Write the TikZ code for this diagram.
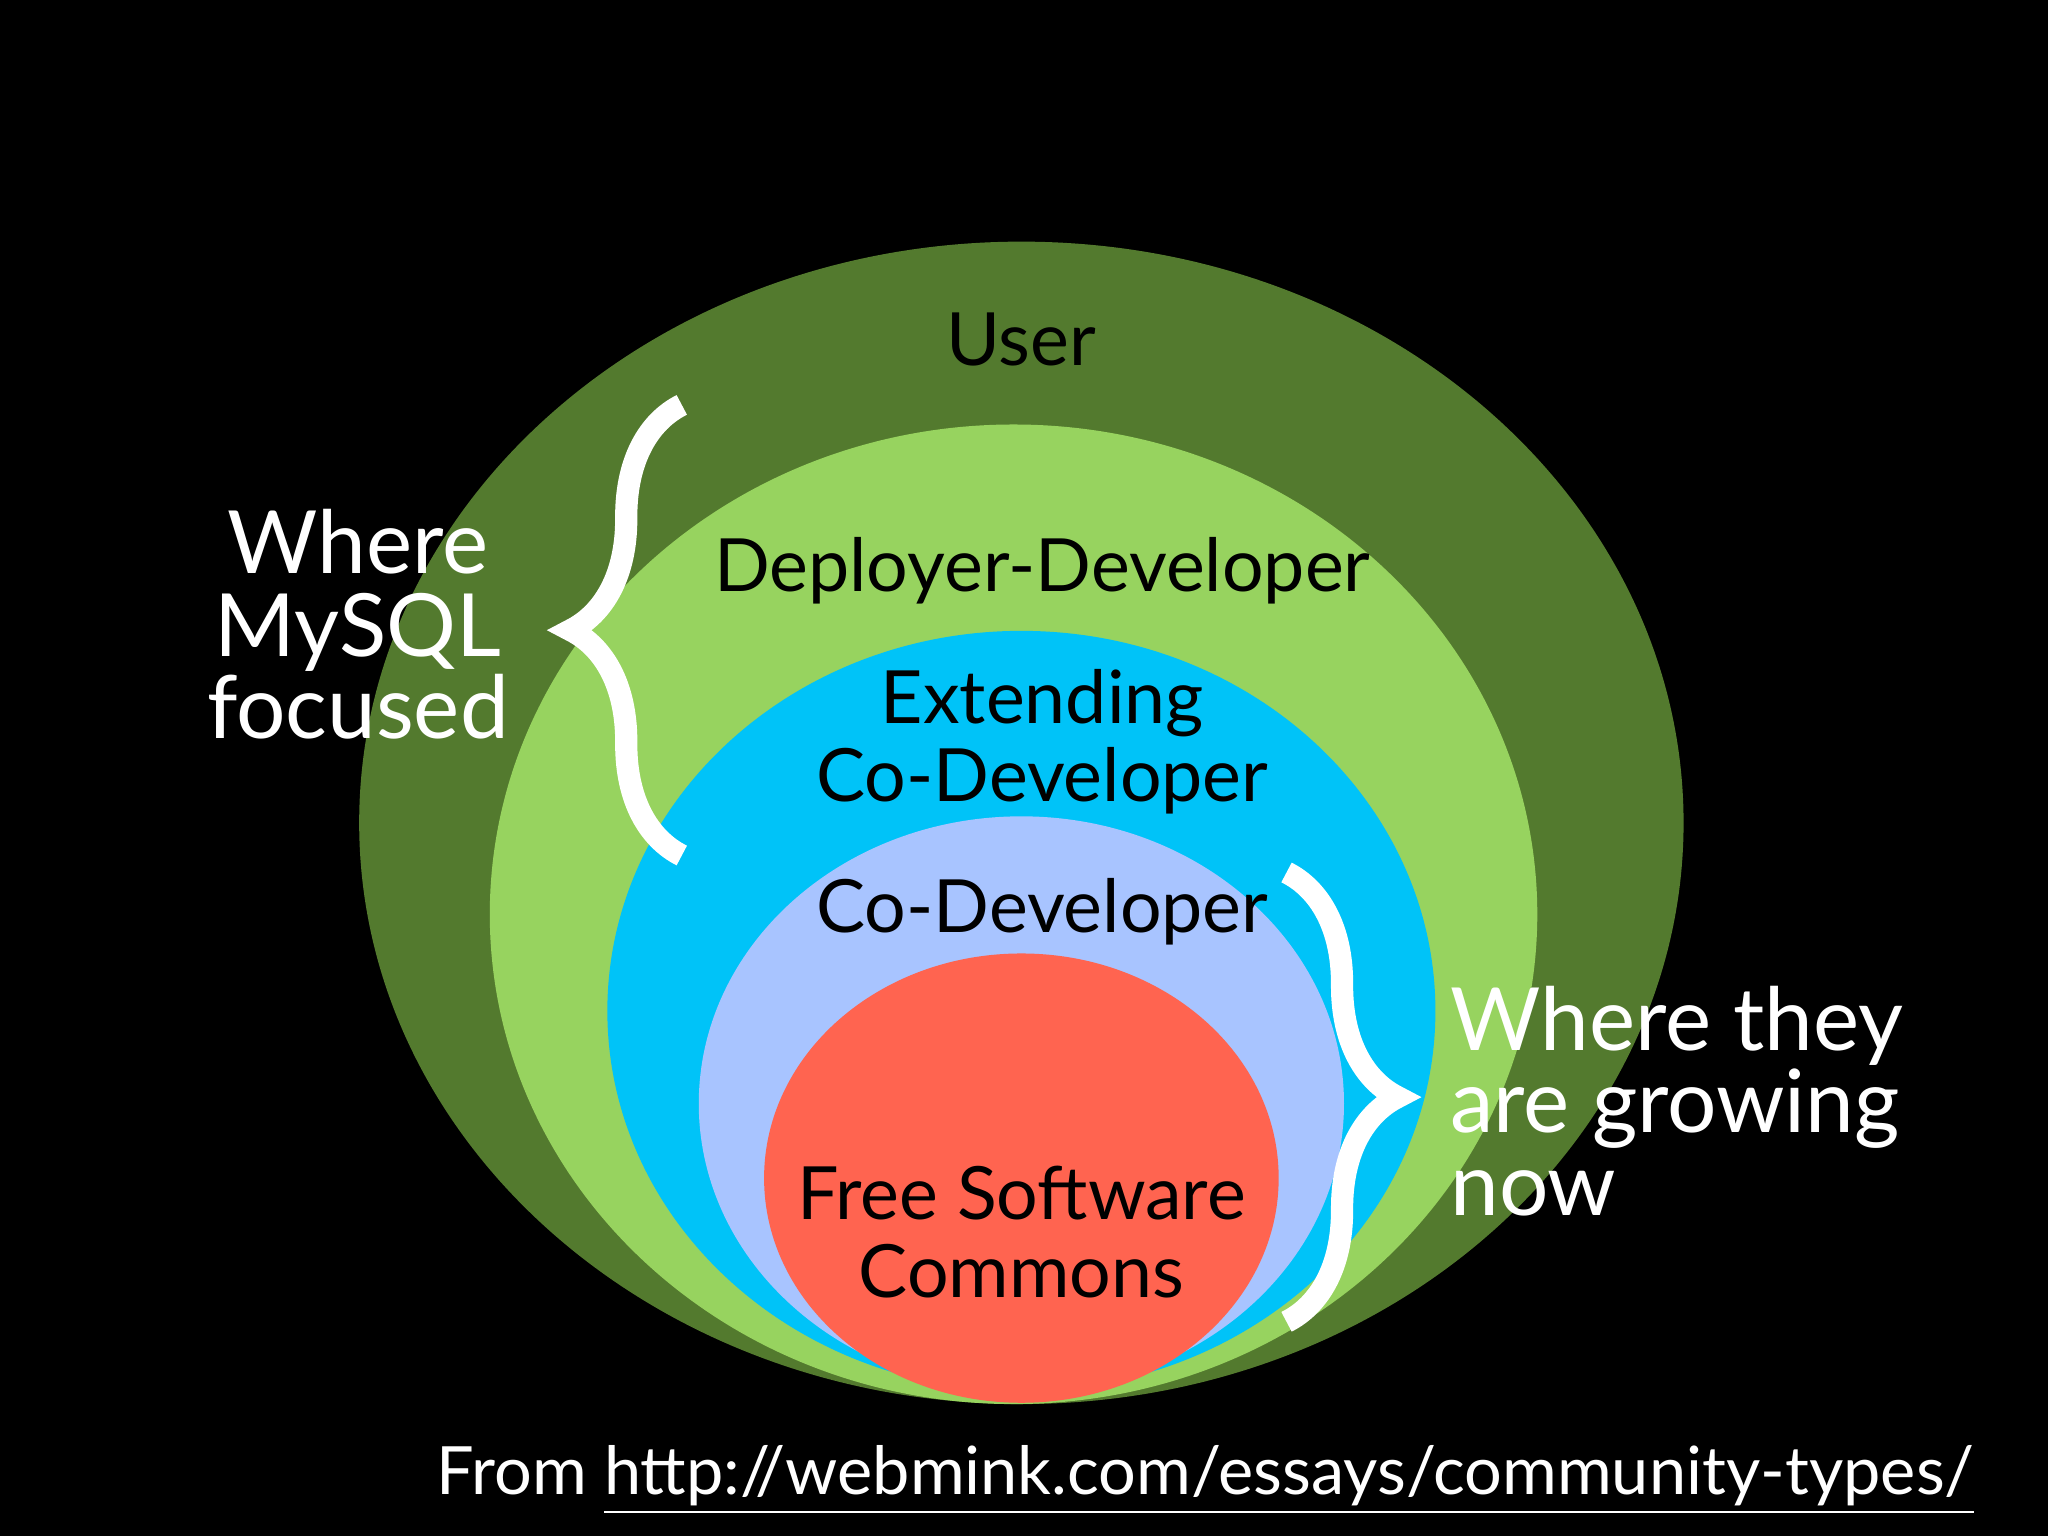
\documentclass[tikz,border=0pt]{standalone}
\usepackage{fontspec}
\setmainfont{Lato}
\usetikzlibrary{decorations.pathreplacing}
\definecolor{cuser}{HTML}{537A2E}
\definecolor{cdep}{HTML}{97D35F}
\definecolor{cext}{HTML}{00C3F8}
\definecolor{ccod}{HTML}{A8C4FF}
\definecolor{cfree}{HTML}{FF6450}
\tikzset{lbl/.style={text=black,font=\fontsize{16}{19}\selectfont,align=center},
 wlbl/.style={text=white,font=\fontsize{19}{22}\selectfont},
 bracestyle/.style={draw=white,line width=0.17cm,decorate,decoration={brace,amplitude=0.55cm}}}
\begin{document}
\begin{tikzpicture}[x=0.01cm,y=-0.01cm]
\fill[black] (0,0) rectangle (1568,1176);
\useasboundingbox (0,0) rectangle (1568,1176);
\fill[cuser] (782,630) ellipse [x radius=507,y radius=445];
\fill[cdep] (776,700) ellipse [x radius=401,y radius=375];
\fill[cext] (782,774) ellipse [x radius=317,y radius=291];
\fill[ccod] (782,845) ellipse [x radius=247,y radius=220];
\fill[cfree] (782,902) ellipse [x radius=197,y radius=172];
\node[lbl] (u) at (782,260) {User};
\node[lbl] (d) at (798,437) {Deployer-Developer};
\node[lbl] (e) at (798,568) {Extending\\[-2pt]Co-Developer};
\node[lbl] (c) at (798,698) {Co-Developer};
\node[lbl] (f) at (782,943) {Free Software\\[-2pt]Commons};
\coordinate (lb1) at (522,655);
\coordinate (lb2) at (522,310);
\draw[bracestyle,decoration={amplitude=0.85cm}] (lb1) -- (lb2);
\coordinate (rb1) at (985,668);
\coordinate (rb2) at (985,1012);
\draw[bracestyle,decoration={amplitude=0.85cm}] (rb1) -- (rb2);
\node[wlbl,align=center] (wm) at (274,478) {Where\\[-4pt]MySQL\\[-4pt]focused};
\node[wlbl,align=left,anchor=west] (wg) at (1098,843) {Where they\\[-4pt]are growing\\[-4pt]now};
\node[text=white,font=\fontsize{14.5}{17}\selectfont,anchor=east] (src) at (1524,1133) {From \underline{http://webmink.com/essays/community-types/}};
\end{tikzpicture}
\end{document}
